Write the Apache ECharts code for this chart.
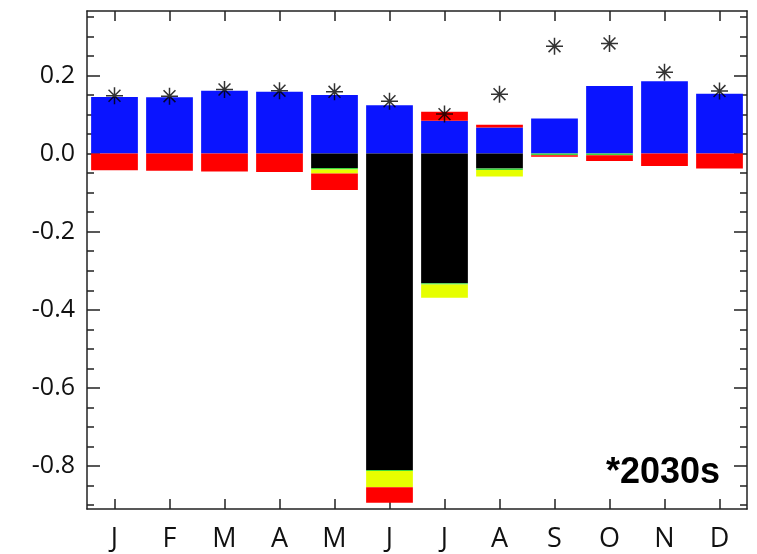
<!DOCTYPE html>
<html>
<head>
<meta charset="utf-8">
<script src="https://cdn.jsdelivr.net/npm/echarts@6/dist/echarts.min.js"></script>
<style>
  html, body { margin: 0; padding: 0; background: #fff; }
  #chart { width: 757px; height: 554px; }
</style>
</head>
<body>
<div id="chart"></div>
<script>
// Month initials along the category axis
var months = ['J', 'F', 'M', 'A', 'M', 'J', 'J', 'A', 'S', 'O', 'N', 'D'];

// Stacked contributions per month
var blueVals   = [0.145, 0.144, 0.161, 0.158, 0.150, 0.124, 0.084, 0.067, 0.090, 0.173, 0.185, 0.153];
var blackVals  = [0, 0, 0, 0, -0.037, -0.810, -0.332, -0.038, 0, 0, 0, 0];
var greenVals  = [0, 0, 0, 0, -0.004, -0.003, -0.003, -0.004, -0.004, -0.004, 0, 0];
var yellowVals = [0, 0, 0, 0, -0.010, -0.041, -0.034, -0.017, 0, 0, 0, 0];
var redVals    = [-0.043, -0.044, -0.046, -0.047, -0.042, -0.040, 0.023, 0.007, -0.004, -0.015, -0.032, -0.038];

// Asterisk markers
var starVals   = [0.148, 0.147, 0.164, 0.161, 0.158, 0.134, 0.101, 0.152, 0.275, 0.282, 0.208, 0.160];

// Value-axis ticks
var majorTicks = [-0.8, -0.6, -0.4, -0.2, 0.0, 0.2];
var minorTicks = [-0.9, -0.85, -0.75, -0.7, -0.65, -0.55, -0.5, -0.45, -0.35, -0.3, -0.25,
                  -0.15, -0.1, -0.05, 0.05, 0.1, 0.15, 0.25, 0.3, 0.35];

var Y_MIN = -0.91, Y_MAX = 0.365;
var AXIS_COLOR = '#222';
var LABEL_FONT = 'Open Sans';

function valueAxis(opts) {
  return Object.assign({
    type: 'value',
    min: Y_MIN,
    max: Y_MAX,
    splitLine: { show: false },
    axisLine: { show: false },
    axisLabel: { show: false },
    axisTick: { show: false }
  }, opts);
}

var chart = echarts.init(document.getElementById('chart'), null, { renderer: 'canvas' });

function barSeries(name, color, data) {
  return {
    name: name,
    type: 'bar',
    stack: 'total',
    stackStrategy: 'samesign',
    barWidth: '85%',
    itemStyle: { color: color },
    data: data,
    z: 2
  };
}

chart.setOption({
  animation: false,
  backgroundColor: '#fff',
  grid: { left: 87, right: 10, top: 11, bottom: 45 },
  xAxis: [
    {
      type: 'category',
      data: months,
      position: 'bottom',
      axisLine: { show: true, onZero: false, lineStyle: { color: AXIS_COLOR, width: 1.5 } },
      axisTick: { show: true, inside: true, alignWithLabel: true, length: 10, lineStyle: { color: AXIS_COLOR, width: 1.5 } },
      axisLabel: { fontFamily: LABEL_FONT, fontSize: 27, color: '#111', margin: 17 },
      splitLine: { show: false }
    },
    {
      type: 'category',
      data: months,
      position: 'top',
      axisLine: { show: true, onZero: false, lineStyle: { color: AXIS_COLOR, width: 1.5 } },
      axisTick: { show: true, inside: true, alignWithLabel: true, length: 10, lineStyle: { color: AXIS_COLOR, width: 1.5 } },
      axisLabel: { show: false },
      splitLine: { show: false }
    }
  ],
  yAxis: [
    valueAxis({
      position: 'left',
      axisLine: { show: true, onZero: false, lineStyle: { color: AXIS_COLOR, width: 1.5 } },
      axisTick: { show: true, inside: true, length: 13, customValues: majorTicks, lineStyle: { color: AXIS_COLOR, width: 1.5 } },
      axisLabel: {
        show: true, customValues: majorTicks, margin: 12,
        fontFamily: LABEL_FONT, fontSize: 25, color: '#111',
        formatter: function (v) { return v.toFixed(1); }
      }
    }),
    valueAxis({
      position: 'left',
      axisTick: { show: true, inside: true, length: 7, customValues: minorTicks, lineStyle: { color: AXIS_COLOR, width: 1.5 } }
    }),
    valueAxis({
      position: 'right',
      axisLine: { show: true, onZero: false, lineStyle: { color: AXIS_COLOR, width: 1.5 } },
      axisTick: { show: true, inside: true, length: 13, customValues: majorTicks, lineStyle: { color: AXIS_COLOR, width: 1.5 } }
    }),
    valueAxis({
      position: 'right',
      axisTick: { show: true, inside: true, length: 7, customValues: minorTicks, lineStyle: { color: AXIS_COLOR, width: 1.5 } }
    })
  ],
  graphic: [
    {
      type: 'text',
      right: 37,
      top: 455,
      style: {
        text: '*2030s',
        font: 'bold 36px "Liberation Sans", Arial, sans-serif',
        fill: '#000'
      },
      z: 10
    }
  ],
  series: [
    barSeries('blue', '#0a14ff', blueVals),
    barSeries('black', '#000000', blackVals),
    barSeries('green', '#3cd83c', greenVals),
    barSeries('yellow', '#e6ff00', yellowVals),
    barSeries('red', '#ff0000', redVals),
    {
      name: 'total',
      type: 'scatter',
      data: starVals,
      symbol: 'path://M10,0L10,20M0,10L20,10M3,3L17,17M3,17L17,3',
      symbolSize: 17,
      itemStyle: { color: 'none', borderColor: '#000', borderWidth: 1.5 },
      z: 5
    }
  ]
});
</script>
</body>
</html>
